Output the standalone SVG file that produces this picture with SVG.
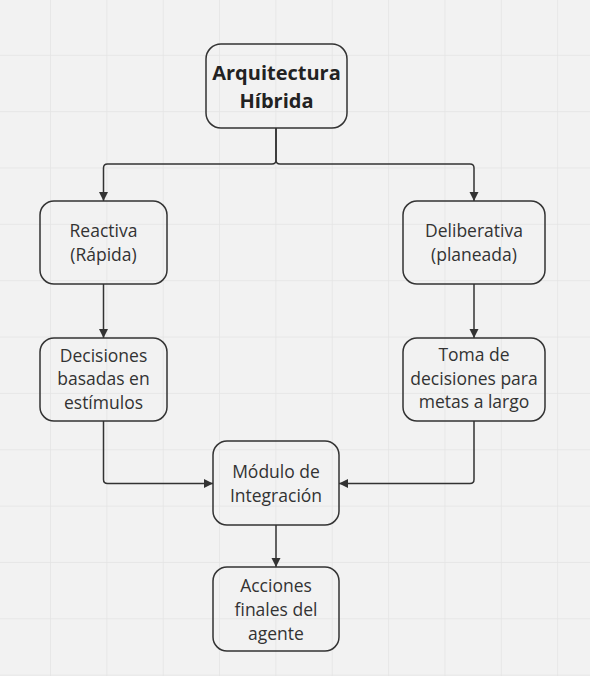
<svg xmlns="http://www.w3.org/2000/svg" width="590" height="676" viewBox="0 0 590 676">
<defs>
<pattern id="grid" x="50" y="54.8" width="56.35" height="56.35" patternUnits="userSpaceOnUse">
<path d="M0,0 H56.35 M0,0 V56.35" fill="none" stroke="#e4e4e4" stroke-width="1.5"/>
</pattern>
<marker id="arr" markerWidth="10" markerHeight="10" refX="9" refY="5" orient="auto" markerUnits="userSpaceOnUse">
<path d="M0,0.5 L9,5 L0,9.5 Z" fill="#333"/>
</marker>
</defs>
<style>
.node{fill:none;stroke:#333;stroke-width:1.5}
.lbl{font-family:"Open Sans","Noto Sans",sans-serif;font-size:17.5px;fill:#333;text-anchor:middle}
.title{font-family:"Open Sans","Noto Sans",sans-serif;font-size:20px;font-weight:bold;fill:#222;text-anchor:middle}
.edge{fill:none;stroke:#333;stroke-width:1.5;marker-end:url(#arr)}
</style>
<rect width="590" height="676" fill="#f2f2f2"/>
<rect width="590" height="676" fill="url(#grid)"/>
<g id="connectors">
<path class="edge" d="M276,128 V160 Q276,164 272,164 H107.5 Q103.5,164 103.5,168 V201"/>
<path class="edge" d="M276,128 V160 Q276,164 280,164 H470 Q474,164 474,168 V201"/>
<path class="edge" d="M103.5,284 V338"/>
<path class="edge" d="M474,284 V338"/>
<path class="edge" d="M103.5,421 V479.5 Q103.5,483.5 107.5,483.5 H213"/>
<path class="edge" d="M474,421 V479.5 Q474,483.5 470,483.5 H339"/>
<path class="edge" d="M276,525 V567"/>
</g>
<g id="node-arquitectura">
<rect class="node" x="206" y="44" width="141" height="84" rx="15"/>
<text class="title" x="276.5" y="80">Arquitectura</text>
<text class="title" x="276.5" y="108">Híbrida</text>
</g>
<g id="node-reactiva">
<rect class="node" x="40" y="201" width="127" height="83" rx="14"/>
<text class="lbl" x="103.5" y="237">Reactiva</text>
<text class="lbl" x="103.5" y="261">(Rápida)</text>
</g>
<g id="node-deliberativa">
<rect class="node" x="403" y="201" width="142" height="83" rx="14"/>
<text class="lbl" x="474" y="237">Deliberativa</text>
<text class="lbl" x="474" y="261">(planeada)</text>
</g>
<g id="node-decisiones">
<rect class="node" x="40" y="338" width="127" height="83" rx="14"/>
<text class="lbl" x="103.5" y="361.5">Decisiones</text>
<text class="lbl" x="103.5" y="385">basadas en</text>
<text class="lbl" x="103.5" y="408.5">estímulos</text>
</g>
<g id="node-toma">
<rect class="node" x="403" y="338" width="142" height="83" rx="14"/>
<text class="lbl" x="474" y="361">Toma de</text>
<text class="lbl" x="474" y="384.5">decisiones para</text>
<text class="lbl" x="474" y="408">metas a largo</text>
</g>
<g id="node-modulo">
<rect class="node" x="213" y="441" width="126" height="84" rx="14"/>
<text class="lbl" x="276" y="478">Módulo de</text>
<text class="lbl" x="276" y="501.5">Integración</text>
</g>
<g id="node-acciones">
<rect class="node" x="213" y="567" width="126" height="84" rx="14"/>
<text class="lbl" x="276" y="592">Acciones</text>
<text class="lbl" x="276" y="616">finales del</text>
<text class="lbl" x="276" y="639.5">agente</text>
</g>
</svg>
